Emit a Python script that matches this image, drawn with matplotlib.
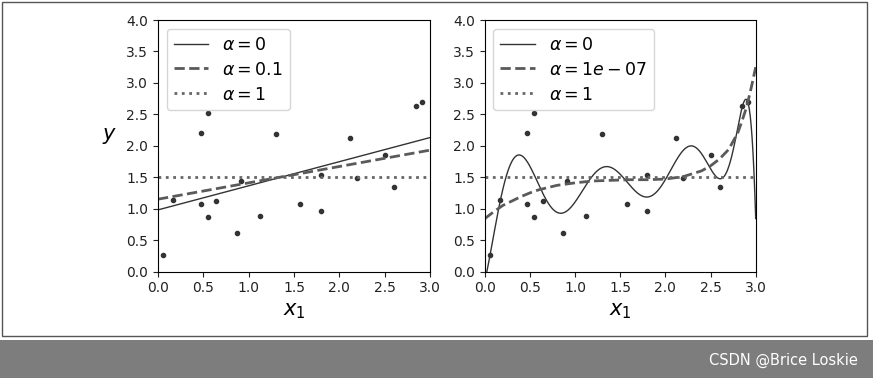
import numpy as np
import matplotlib
matplotlib.use("Agg")
import matplotlib.pyplot as plt
from matplotlib.patches import Rectangle

# ---- data ----
X = [0.06, 0.17, 0.47, 0.55, 0.47, 0.55, 0.64, 0.87, 0.91, 1.12,
     1.30, 1.57, 1.80, 1.80, 2.12, 2.20, 2.50, 2.60, 2.85, 2.91]
Y = [0.26, 1.13, 2.21, 2.52, 1.08, 0.87, 1.12, 0.61, 1.44, 0.89,
     2.19, 1.08, 0.96, 1.53, 2.13, 1.49, 1.85, 1.34, 2.63, 2.70]

# left panel: linear models (values at x = 0 and x = 3)
lin_x = [0.0, 3.0]
lin_a0 = [0.98, 2.13]
lin_a01 = [1.15, 1.93]
lin_a1 = [1.51, 1.51]

# right panel: alpha = 1e-07 curve samples
poly_x = [0.0, 0.1, 0.2, 0.3, 0.4, 0.5, 0.6, 0.8, 1.0, 1.2, 1.4, 1.6, 1.8,
          2.0, 2.2, 2.4, 2.5, 2.6, 2.7, 2.8, 2.85, 2.9, 2.95, 3.0]
poly_a17 = [0.84, 0.95, 1.05, 1.12, 1.19, 1.25, 1.30, 1.37, 1.41, 1.44, 1.45,
            1.46, 1.46, 1.47, 1.51, 1.60, 1.68, 1.79, 1.94, 2.20, 2.40, 2.62,
            2.92, 3.25]
poly_a1 = [1.51, 1.51]

labels_left = [r"$\alpha = 0$", r"$\alpha = 0.1$", r"$\alpha = 1$"]
labels_right = [r"$\alpha = 0$", r"$\alpha = 1e-07$", r"$\alpha = 1$"]

W, H = 873, 378
fig = plt.figure(figsize=(W / 100, H / 100), dpi=100)

# frame and bottom strip
fig.patches.append(Rectangle((0, 0), 1, 1, transform=fig.transFigure,
                             facecolor="white", edgecolor="none", zorder=-3))
fig.patches.append(Rectangle((2 / W, 1 - 336 / H), 865 / W, 334 / H,
                             transform=fig.transFigure, facecolor="white",
                             edgecolor="#555555", lw=1.0, zorder=-2))
fig.patches.append(Rectangle((0, 0), 1, 38 / H, transform=fig.transFigure,
                             facecolor="#7d7d7d", edgecolor="none", zorder=-2))
fig.text(858 / W, 18 / H, "CSDN @Brice Loskie", color="white", fontsize=10.5,
         ha="right", va="center")

bottom = 1 - 271.5 / H
height = 251.5 / H
axL = fig.add_axes([158 / W, bottom, 272 / W, height])
axR = fig.add_axes([484.7 / W, bottom, 271 / W, height])

pt_color = "#333333"
c0, c1, c2 = "#333333", "#5a5a5a", "#666666"

# left
axL.plot(X, Y, ".", color=pt_color, ms=6)
axL.plot(lin_x, lin_a0, "-", color=c0, lw=1, label=labels_left[0])
axL.plot(lin_x, lin_a01, "--", color=c1, lw=2, label=labels_left[1])
axL.plot(lin_x, lin_a1, ":", color=c2, lw=2, label=labels_left[2])

# right: alpha = 0 -> plain degree-10 least-squares fit of the points
fit = np.polynomial.Polynomial.fit(X, Y, 10)
xs = np.linspace(0, 3, 300)
axR.plot(X, Y, ".", color=pt_color, ms=6)
axR.plot(xs, fit(xs), "-", color=c0, lw=1, label=labels_right[0])
axR.plot(poly_x, poly_a17, "--", color=c1, lw=2, label=labels_right[1])
axR.plot(lin_x, poly_a1, ":", color=c2, lw=2, label=labels_right[2])

for ax, lab in ((axL, labels_left), (axR, labels_right)):
    ax.set_xlim(0, 3)
    ax.set_ylim(0, 4)
    ax.set_xticks(np.arange(0, 3.01, 0.5))
    ax.set_yticks(np.arange(0, 4.01, 0.5))
    ax.tick_params(labelsize=10, colors="#222222")
    ax.set_xlabel("$x_1$", fontsize=15)
    ax.legend(loc="upper left", fontsize=12.5, labelspacing=0.4)

axL.set_ylabel("$y$", fontsize=15, rotation=0, labelpad=12)

fig.savefig("out.png", dpi=100)
